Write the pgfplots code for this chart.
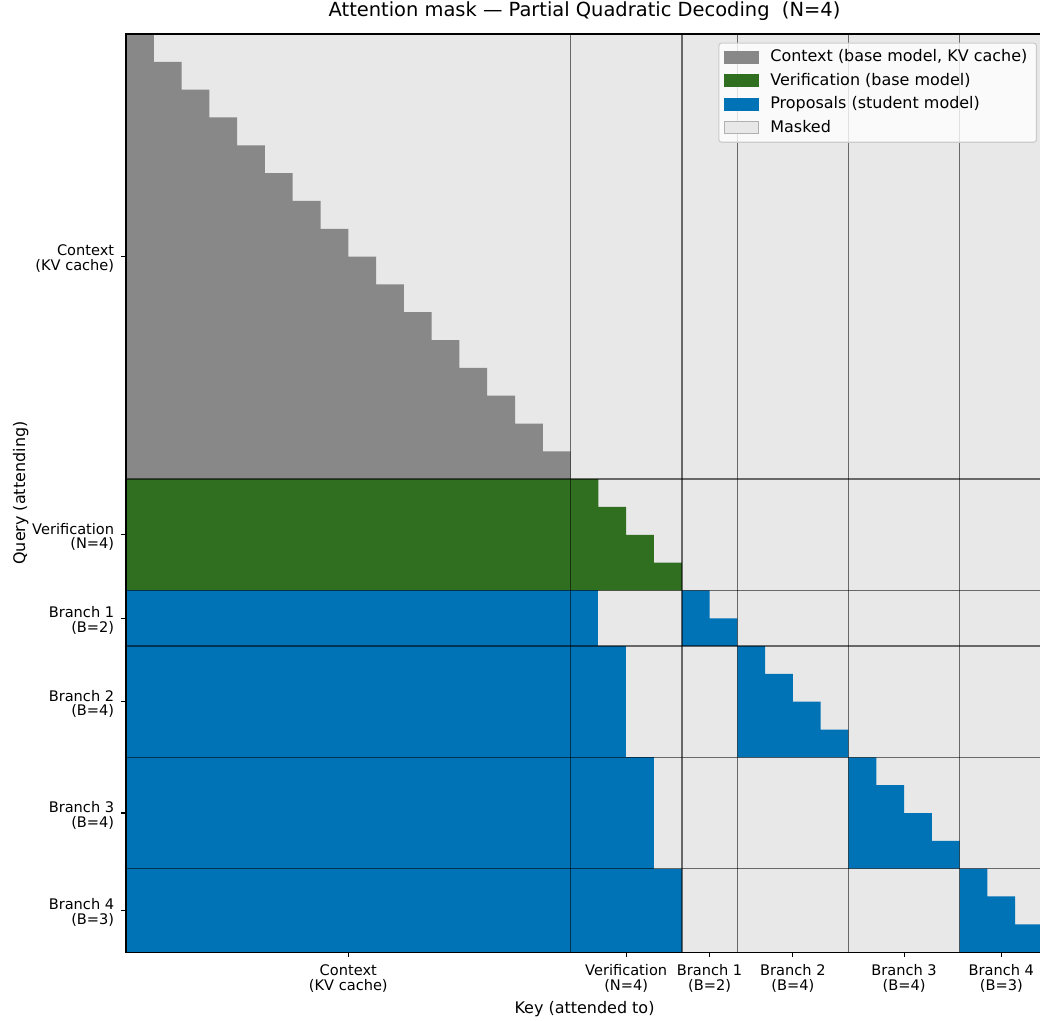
\documentclass[border=0pt]{standalone}
\usepackage{fontspec}
\setmainfont{DejaVu Sans}
\usepackage{pgfplots}
\pgfplotsset{compat=1.18}

\definecolor{ctxgray}{RGB}{136,136,136}
\definecolor{vergreen}{RGB}{47,111,31}
\definecolor{propblue}{RGB}{0,115,183}
\definecolor{maskgray}{RGB}{232,232,232}
\definecolor{maskedge}{RGB}{176,176,176}
\definecolor{legedge}{RGB}{204,204,204}

\begin{document}
\begin{tikzpicture}
\begin{axis}[
  width=660.2pt, height=661pt, scale only axis,
  xmin=0, xmax=33, ymin=0, ymax=33, y dir=reverse,
  axis on top,
  axis background/.style={fill=maskgray},
  axis line style={black, line width=0.8pt},
  tick align=outside, xtick pos=bottom, ytick pos=left,
  major tick length=3.5pt,
  tick style={black, line width=0.8pt},
  xtick={8,18,21,24,28,31.5},
  ytick={8,18,21,24,28,31.5},
  xticklabels={{Context\\(KV cache)},{Verification\\(N=4)},{Branch 1\\(B=2)},{Branch 2\\(B=4)},{Branch 3\\(B=4)},{Branch 4\\(B=3)}},
  yticklabels={{Context\\(KV cache)},{Verification\\(N=4)},{Branch 1\\(B=2)},{Branch 2\\(B=4)},{Branch 3\\(B=4)},{Branch 4\\(B=3)}},
  xticklabel style={align=center, font=\fontsize{10.5}{10.6}\selectfont, yshift=-2pt},
  yticklabel style={align=right, font=\fontsize{10.5}{10.6}\selectfont, xshift=-1.5pt, yshift=-1.5pt},
  title={Attention mask — Partial Quadratic Decoding\ \ (N=4)},
  title style={font=\fontsize{14}{16}\selectfont, at={(axis description cs:0.5,1)}, anchor=base, yshift=6.5pt},
  xlabel={Key (attended to)},
  xlabel style={font=\fontsize{11.5}{13}\selectfont, at={(axis description cs:0.5,0)}, anchor=base, yshift=-44pt},
  ylabel={Query (attending)},
  ylabel style={font=\fontsize{11.5}{13}\selectfont, at={(axis description cs:-0.1101,0.5)}, anchor=base, rotate=0},
  legend image code/.code={
    \draw[sharp corners, fill opacity=1, draw opacity=1, line width=0.8pt, #1] (0pt,-4.3pt) rectangle (24.5pt,4.3pt);
    \path[draw=none, fill=none] (0pt,0pt) -- (30.1pt,0pt);},
  legend cell align=left,
  legend style={at={(axis description cs:1,1)}, anchor=north east, xshift=-4.3pt, yshift=-6.2pt,
    font=\fontsize{11.5}{13}\selectfont, draw=legedge, line width=0.8pt, fill=white, fill opacity=0.8, text opacity=1,
    draw opacity=1, rounded corners=2pt, row sep=3.9pt, inner xsep=3.6pt, inner ysep=3.8pt,
    nodes={text height=8.5pt, text depth=2.5pt, inner xsep=3pt, inner ysep=1pt}},
]

% context rows: causal over the KV cache
\addplot[fill=ctxgray, draw=none, forget plot] coordinates {
  (0,0) (1,0) (1,1) (2,1) (2,2) (3,2) (3,3) (4,3) (4,4) (5,4) (5,5) (6,5) (6,6) (7,6) (7,7) (8,7)
  (8,8) (9,8) (9,9) (10,9) (10,10) (11,10) (11,11) (12,11) (12,12) (13,12) (13,13) (14,13)
  (14,14) (15,14) (15,15) (16,15) (16,16) (0,16)} -- cycle;

% verification rows: full context + causal verification block
\addplot[fill=vergreen, draw=none, forget plot] coordinates {
  (0,16) (17,16) (17,17) (18,17) (18,18) (19,18) (19,19) (20,19) (20,20) (0,20)} -- cycle;

% branch 1 (B=2)
\addplot[fill=propblue, draw=none, forget plot] coordinates {(0,20) (17,20) (17,22) (0,22)} -- cycle;
\addplot[fill=propblue, draw=none, forget plot] coordinates {(20,20) (21,20) (21,21) (22,21) (22,22) (20,22)} -- cycle;
% branch 2 (B=4)
\addplot[fill=propblue, draw=none, forget plot] coordinates {(0,22) (18,22) (18,26) (0,26)} -- cycle;
\addplot[fill=propblue, draw=none, forget plot] coordinates {
  (22,22) (23,22) (23,23) (24,23) (24,24) (25,24) (25,25) (26,25) (26,26) (22,26)} -- cycle;
% branch 3 (B=4)
\addplot[fill=propblue, draw=none, forget plot] coordinates {(0,26) (19,26) (19,30) (0,30)} -- cycle;
\addplot[fill=propblue, draw=none, forget plot] coordinates {
  (26,26) (27,26) (27,27) (28,27) (28,28) (29,28) (29,29) (30,29) (30,30) (26,30)} -- cycle;
% branch 4 (B=3)
\addplot[fill=propblue, draw=none, forget plot] coordinates {(0,30) (20,30) (20,33) (0,33)} -- cycle;
\addplot[fill=propblue, draw=none, forget plot] coordinates {
  (30,30) (31,30) (31,31) (32,31) (32,32) (33,32) (33,33) (30,33)} -- cycle;

% block boundaries
\foreach \b in {16,20,22,26,30} {
  \addplot[black, draw opacity=0.55, line width=1.2pt, forget plot] coordinates {(\b,0) (\b,33)};
  \addplot[black, draw opacity=0.55, line width=1.2pt, forget plot] coordinates {(0,\b) (33,\b)};
}

\addlegendimage{fill=ctxgray, draw=ctxgray}
\addlegendentry{Context (base model, KV cache)}
\addlegendimage{fill=vergreen, draw=vergreen}
\addlegendentry{Verification (base model)}
\addlegendimage{fill=propblue, draw=propblue}
\addlegendentry{Proposals (student model)}
\addlegendimage{fill=maskgray, draw=maskedge}
\addlegendentry{Masked}

\coordinate (bl) at (axis cs:0,33);
\coordinate (tr) at (axis cs:33,0);
\end{axis}
\pgfresetboundingbox
\path ([xshift=-90.72pt, yshift=-48.96pt]bl) rectangle ([xshift=-2.16pt, yshift=24.48pt]tr);
\end{tikzpicture}
\end{document}
